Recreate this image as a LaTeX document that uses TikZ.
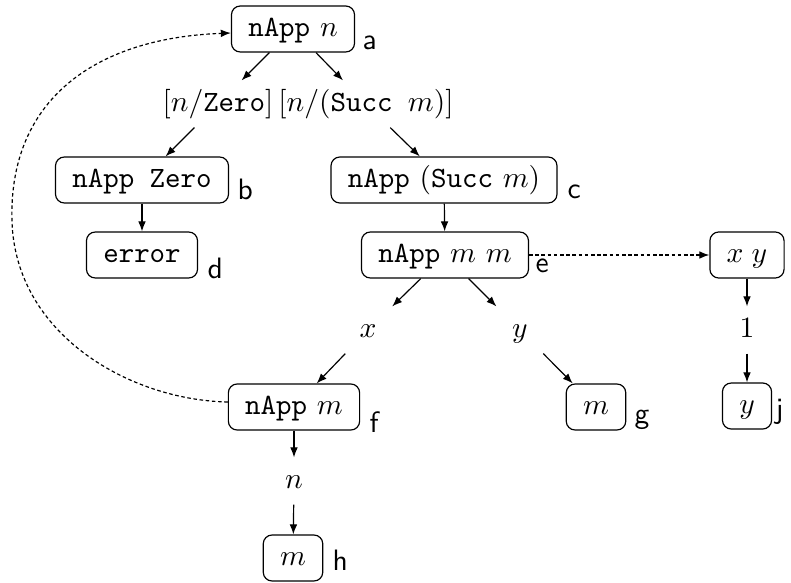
\documentclass[tikz,border=0pt]{standalone}
\usetikzlibrary{arrows.meta,calc}
\tikzset{
  box/.style={draw, rounded corners=3pt, inner xsep=5.7pt, inner ysep=3.2pt, text height=7pt, text depth=2.2pt},
  lbl/.style={inner xsep=5.7pt, inner ysep=3.2pt, text height=7pt, text depth=2.2pt},
  tag/.style={anchor=base west, inner sep=0pt, font=\sffamily},
  arr/.style={-{Latex[length=3.4pt,width=2.6pt]}},
  dotarr/.style={arr, dash pattern=on 1.2pt off 0.9pt},
}
\begin{document}
\begin{tikzpicture}[x=0.339pt, y=-0.339pt]
\useasboundingbox (0,0) rectangle (791,583);
% nodes
\node[box] (a) at (293,29) {\texttt{nApp} $n$};
\node[lbl] (s1) at (218,104) {$[n/\texttt{Zero}]$};
\node[lbl] (s2) at (366,104) {$[n/(\texttt{Succ}\texttt{\ }m)]$};
\node[box] (b) at (142,180) {\texttt{nApp Zero}};
\node[box] (c) at (444,180) {\texttt{nApp} $(\texttt{Succ}\ m)$};
\node[box] (d) at (142,255) {\texttt{error}};
\node[box] (e) at (445,255) {\texttt{nApp} $m\ m$};
\node[box] (xy) at (747,255) {$x\;y$};
\node[lbl] (lx) at (368,330) {$x$};
\node[lbl] (ly) at (520,330) {$y$};
\node[lbl] (one) at (747,330) {$1$};
\node[box] (f) at (294,407) {\texttt{nApp} $m$};
\node[box] (g) at (596,407) {$m$};
\node[box] (j) at (747,406) {$y$};
\node[lbl] (ln) at (294,481) {$n$};
\node[box] (h) at (293,558) {$m$};
% tags
\node[tag] (ta) at (362,50) {a};
\node[tag] (tb) at (237,200) {b};
\node[tag] (tc) at (567,198) {c};
\node[tag] (td) at (207,278) {d};
\node[tag] (te) at (535,272) {e};
\node[tag] (tf) at (369,432) {f};
\node[tag] (tg) at (634,423) {g};
\node[tag] (th) at (332,570) {h};
\node[tag] (tj) at (775,418) {j};
% edges
\draw[arr] (a) -- (s1);
\draw[arr] (a) -- (s2);
\draw[arr] (s1) -- (b);
\draw[arr] (s2) -- (c);
\draw[arr] (b) -- (d);
\draw[arr] (c) -- (e);
\draw[arr] (e) -- (lx);
\draw[arr] (e) -- (ly);
\draw[arr] (lx) -- (f);
\draw[arr] (ly) -- (g);
\draw[arr] (f) -- (ln);
\draw[arr] (ln) -- (h);
\draw[arr] (xy) -- (one);
\draw[arr] (one) -- (j);
\draw[dotarr] (e) -- (xy);
% loop back
\coordinate (fOut) at ($(f.west)+(0,-5)$);
\coordinate (aIn) at ($(a.west)+(0,4)$);
\coordinate (loopL) at (12,222);
\draw[dotarr] (fOut) .. controls (130,400) and (16,335) .. (loopL)
  .. controls (8,100) and (95,38) .. (aIn);
\end{tikzpicture}
\end{document}
